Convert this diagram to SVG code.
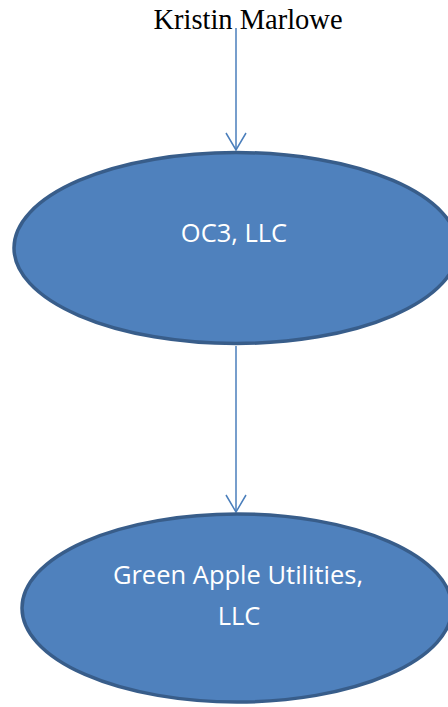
<svg xmlns="http://www.w3.org/2000/svg" width="448" height="707" viewBox="0 0 448 707">
  <style>
    .node { fill: #4f81bd; stroke: #385d8a; stroke-width: 3.5; }
    .label { fill: #ffffff; font-family: "Open Sans", "Noto Sans", sans-serif; font-size: 25.5px; text-anchor: middle; }
    .edge { stroke: #4a7ebb; stroke-width: 1.5; fill: none; }
    .title { fill: #000000; font-family: "Liberation Serif", serif; font-size: 28.5px; text-anchor: middle; }
  </style>
  <defs>
    <marker id="arrow" markerUnits="userSpaceOnUse" markerWidth="20" markerHeight="22" viewBox="0 0 20 22" refX="18" refY="11" orient="auto">
      <path d="M1,1 L18,11 L1,21" fill="none" stroke="#4a7ebb" stroke-width="1.5"/>
    </marker>
  </defs>
  <rect width="448" height="707" fill="#ffffff"/>
  <g id="connectors">
    <line class="edge" x1="236" y1="28" x2="236" y2="150" marker-end="url(#arrow)"/>
    <line class="edge" x1="236" y1="346" x2="236" y2="512" marker-end="url(#arrow)"/>
  </g>
  <g id="kristin-marlowe">
    <text class="title" x="248" y="29">Kristin Marlowe</text>
  </g>
  <g id="oc3-llc">
    <ellipse class="node" cx="236" cy="248" rx="222" ry="95.5"/>
    <text class="label" x="234" y="242">OC3, LLC</text>
  </g>
  <g id="green-apple-utilities-llc">
    <ellipse class="node" cx="237" cy="608" rx="215" ry="94"/>
    <text class="label" x="238" y="584">Green Apple Utilities,</text>
    <text class="label" x="239" y="625">LLC</text>
  </g>
</svg>
